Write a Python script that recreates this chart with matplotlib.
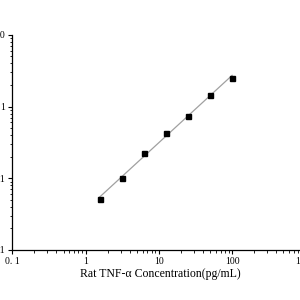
import numpy as np
import matplotlib
matplotlib.use("Agg")
import matplotlib.pyplot as plt
from matplotlib.ticker import FuncFormatter, LogLocator

plt.rcParams['font.family'] = ['Liberation Serif', 'DejaVu Serif']

# standard curve data
conc = [1.5625, 3.125, 6.25, 12.5, 25, 50, 100]
od = [0.051, 0.100, 0.224, 0.426, 0.741, 1.44, 2.51]


def fmt(v, pos):
    if v >= 1:
        return "%d" % round(v)
    return ("%g" % v).replace(".", ". ")


fig = plt.figure(figsize=(3, 3), dpi=100)
ax = fig.add_axes([0.041, 0.1667, 0.977, 0.717])

# log-log linear fit
k, b = np.polyfit(np.log10(conc), np.log10(od), 1)
xf = np.array([conc[0], conc[-1]])
ax.plot(xf, 10 ** (k * np.log10(xf) + b), color='#a0a0a0', lw=0.9, zorder=1)
ax.plot(conc, od, 's', color='black', ms=3.6, zorder=2)

ax.set_xscale('log')
ax.set_yscale('log')
ax.set_xlim(0.1, 1000)
ax.set_ylim(0.01, 10)

for a in (ax.xaxis, ax.yaxis):
    a.set_major_locator(LogLocator(base=10, numticks=10))
    a.set_minor_locator(LogLocator(base=10, subs=np.arange(2, 10), numticks=10))
    a.set_major_formatter(FuncFormatter(fmt))
    a.set_minor_formatter(FuncFormatter(lambda v, p: ""))

ax.tick_params(which='major', length=3.2, width=0.8, labelsize=7, pad=2)
ax.tick_params(which='minor', length=1.8, width=0.6)
ax.spines['top'].set_visible(False)
ax.spines['right'].set_visible(False)
ax.spines['left'].set_linewidth(0.9)
ax.spines['bottom'].set_linewidth(0.9)

ax.set_xlabel('Rat TNF-α Concentration(pg/mL)', fontsize=8.5)
ax.xaxis.set_label_coords((160.5 - 12.3) / 293.2, -0.082)

fig.savefig('out.png', dpi=100)
